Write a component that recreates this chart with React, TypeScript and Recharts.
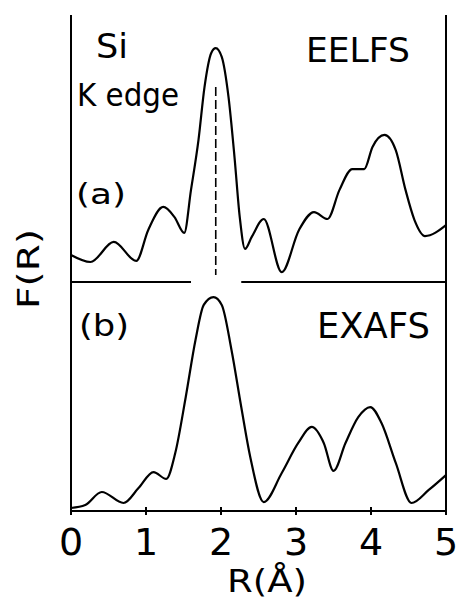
import { LineChart, Line, XAxis, YAxis, ReferenceLine } from 'recharts';

// (a) EELFS, Si K edge
const rA = [0, 0.26, 0.57, 0.87, 1.03, 1.23, 1.38, 1.51, 1.6, 1.7, 1.78, 1.87, 1.93, 2.01, 2.1, 2.18, 2.25, 2.32, 2.41, 2.57, 2.81, 3.04, 3.24, 3.42, 3.58, 3.75, 3.91, 4.02, 4.18, 4.33, 4.46, 4.58, 4.72, 5];
const fA = [0.101, 0.075, 0.15, 0.079, 0.195, 0.281, 0.243, 0.184, 0.345, 0.532, 0.73, 0.858, 0.876, 0.843, 0.693, 0.468, 0.243, 0.124, 0.169, 0.236, 0.037, 0.195, 0.262, 0.236, 0.345, 0.423, 0.423, 0.506, 0.551, 0.494, 0.345, 0.232, 0.172, 0.213];

// (b) EXAFS
const rB = [0, 0.19, 0.41, 0.7, 0.9, 1.1, 1.27, 1.39, 1.53, 1.66, 1.77, 1.9, 2.01, 2.14, 2.27, 2.39, 2.57, 2.81, 3.03, 3.21, 3.37, 3.5, 3.66, 3.83, 3.99, 4.14, 4.33, 4.54, 4.77, 5];
const fB = [0.013, 0.026, 0.083, 0.035, 0.1, 0.17, 0.14, 0.253, 0.498, 0.747, 0.9, 0.934, 0.9, 0.703, 0.454, 0.236, 0.039, 0.166, 0.297, 0.367, 0.297, 0.175, 0.297, 0.41, 0.454, 0.384, 0.21, 0.035, 0.092, 0.157];

const rTicks = [0, 1, 2, 3, 4, 5];
const peakR = 1.93;

const dataA = rA.map((r, i) => ({ r, f: fA[i] }));
const dataB = rB.map((r, i) => ({ r, f: fB[i] }));

const font = '"DejaVu Sans", sans-serif';

const TopTick = (props: any) => {
  const { x, y } = props;
  return <line x1={x} x2={x} y1={y - 4} y2={y + 4} stroke="#000" strokeWidth={2} />;
};

const BottomTick = (props: any) => {
  const { x, y, payload } = props;
  return (
    <g>
      <line x1={x} x2={x} y1={y - 4} y2={y + 4} stroke="#000" strokeWidth={2} />
      <text x={x} y={y + 44} textAnchor="middle" fontSize={38} fontFamily={font} fill="#000">
        {payload.value}
      </text>
    </g>
  );
};

export default function App() {
  return (
    <div style={{ position: 'absolute', left: 0, top: 0, width: 460, height: 603, background: '#fff' }}>
      <div style={{ position: 'absolute', left: 0, top: 0 }}>
        <LineChart width={460} height={300} data={dataA} margin={{ top: 15, right: 14, bottom: 18, left: 71 }}>
          <XAxis
            dataKey="r"
            type="number"
            domain={[0, 5]}
            ticks={rTicks}
            orientation="top"
            height={0}
            tickSize={0}
            tickMargin={0}
            tickLine={false}
            tick={<TopTick />}
            axisLine={{ stroke: '#000', strokeWidth: 2 }}
          />
          <YAxis hide domain={[0, 1]} />
          <ReferenceLine x={0} stroke="#000" strokeWidth={2} />
          <ReferenceLine x={5} stroke="#000" strokeWidth={2} />
          <ReferenceLine segment={[{ x: 0, y: 0 }, { x: 1.6, y: 0 }]} stroke="#000" strokeWidth={2} />
          <ReferenceLine segment={[{ x: 2.27, y: 0 }, { x: 5, y: 0 }]} stroke="#000" strokeWidth={2} />
          <ReferenceLine
            segment={[{ x: peakR, y: 0.73 }, { x: peakR, y: 0.026 }]}
            stroke="#000"
            strokeWidth={1.6}
            strokeDasharray="9 4"
          />
          <Line
            dataKey="f"
            type="monotone"
            stroke="#000"
            strokeWidth={2.2}
            dot={false}
            isAnimationActive={false}
          />
        </LineChart>
      </div>
      <div style={{ position: 'absolute', left: 0, top: 270 }}>
        <LineChart width={460} height={333} data={dataB} margin={{ top: 12, right: 14, bottom: 0, left: 71 }}>
          <XAxis
            dataKey="r"
            type="number"
            domain={[0, 5]}
            ticks={rTicks}
            height={92}
            tickSize={0}
            tickMargin={0}
            tickLine={false}
            tick={<BottomTick />}
            axisLine={{ stroke: '#000', strokeWidth: 2 }}
          />
          <YAxis hide domain={[0, 1]} />
          <ReferenceLine x={0} stroke="#000" strokeWidth={2} />
          <ReferenceLine x={5} stroke="#000" strokeWidth={2} />
          <Line
            dataKey="f"
            type="monotone"
            stroke="#000"
            strokeWidth={2.2}
            dot={false}
            isAnimationActive={false}
          />
        </LineChart>
      </div>
      <svg
        width={460}
        height={603}
        style={{ position: 'absolute', left: 0, top: 0, pointerEvents: 'none' }}
        fontFamily={font}
        fill="#000"
      >
        <text x={96} y={58} fontSize={34} textLength={32} lengthAdjust="spacingAndGlyphs">Si</text>
        <text x={77} y={106} fontSize={32} textLength={102} lengthAdjust="spacingAndGlyphs">K edge</text>
        <text x={306} y={62} fontSize={34} textLength={104} lengthAdjust="spacingAndGlyphs">EELFS</text>
        <text x={76} y={204} fontSize={28} textLength={50} lengthAdjust="spacingAndGlyphs">(a)</text>
        <text x={79} y={336} fontSize={31} textLength={50} lengthAdjust="spacingAndGlyphs">(b)</text>
        <text x={317} y={338} fontSize={35} textLength={113} lengthAdjust="spacingAndGlyphs">EXAFS</text>
        <text x={227} y={592} fontSize={32} textLength={80} lengthAdjust="spacingAndGlyphs">R(Å)</text>
        <text
          x={39}
          y={269}
          fontSize={31}
          textAnchor="middle"
          textLength={80}
          lengthAdjust="spacingAndGlyphs"
          transform="rotate(-90 39 269)"
        >
          F(R)
        </text>
      </svg>
    </div>
  );
}
